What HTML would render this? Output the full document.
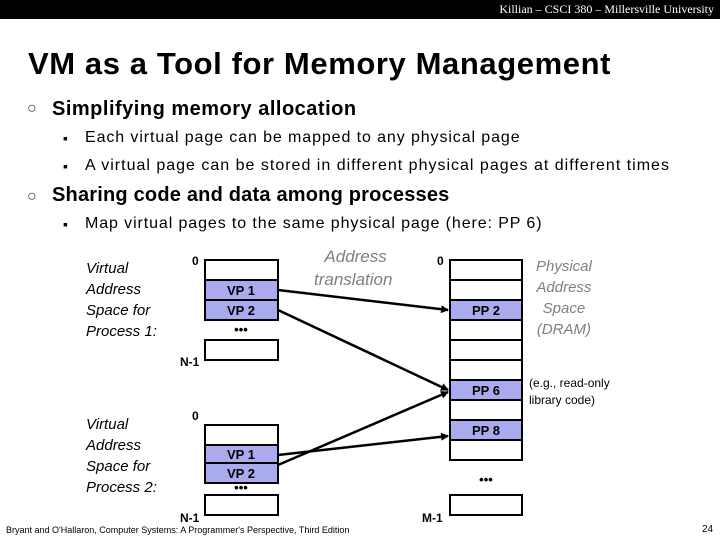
<!DOCTYPE html>
<html><head><style>
body{margin:0;width:720px;height:540px;background:#fff;position:relative;overflow:hidden;font-family:"Liberation Sans",sans-serif}
.a{position:absolute;white-space:nowrap}
.top{left:0;top:0;width:720px;height:19px;background:#000;color:#fff;font-family:"Liberation Serif",serif;font-size:12px;text-align:right}
.h{font-weight:bold;font-size:20px}
.s{font-size:16px;letter-spacing:0.9px}
.b{position:absolute;left:63px;font-size:14px}
.it{font-style:italic;color:#000;font-size:15px;line-height:21px}
</style></head><body>
<div class="a top"><span style="position:relative;right:6px;top:2px">Killian – CSCI 380 – Millersville University</span></div>
<div class="a" style="left:28px;top:46px;font-size:31px;font-weight:bold;letter-spacing:0.6px">VM as a Tool for Memory Management</div>
<div class="a" style="left:27px;top:100px;font-size:16px;color:#333">○</div>
<div class="a h" style="left:52px;top:98px;letter-spacing:0.5px">Simplifying memory allocation</div>
<div class="a b" style="top:130px">▪</div><div class="a s" style="left:85px;top:129px">Each virtual page can be mapped to any physical page</div>
<div class="a b" style="top:158px">▪</div><div class="a s" style="left:85px;top:157px;letter-spacing:1px">A virtual page can be stored in different physical pages at different times</div>
<div class="a" style="left:27px;top:188px;font-size:16px;color:#333">○</div>
<div class="a h" style="left:52px;top:184px;letter-spacing:0.2px">Sharing code and data among processes</div>
<div class="a b" style="top:216px">▪</div><div class="a s" style="left:85px;top:215px">Map virtual pages to the same physical page (here: PP 6)</div>
<div class="a it" style="left:86px;top:258px">Virtual<br>Address<br>Space for<br>Process 1:</div>
<div class="a it" style="left:86px;top:414px">Virtual<br>Address<br>Space for<br>Process 2:</div>
<div class="a it" style="left:314px;top:245px;color:#808080;font-size:17px;text-align:center;line-height:23px">&nbsp;Address<br>translation</div>
<div class="a it" style="left:536px;top:256px;color:#808080;text-align:center">Physical<br>Address<br>Space<br>(DRAM)</div>
<div class="a" style="left:529px;top:375px;font-size:12px;line-height:17px">(e.g., read-only<br>library code)</div>
<div class="a" style="left:6px;top:525px;font-size:9px">Bryant and O'Hallaron, Computer Systems: A Programmer's Perspective, Third Edition</div>
<div class="a" style="left:702px;top:524px;font-size:10px">24</div>
<svg class="a" style="left:0;top:0" width="720" height="540">
<defs><marker id="m" markerWidth="8" markerHeight="8" refX="7" refY="4" orient="auto" markerUnits="userSpaceOnUse"><path d="M0,0L8,4L0,8z"/></marker></defs>
<g stroke="#000" stroke-width="2" fill="#fff">
<rect x="205" y="260" width="73" height="20"/>
<rect x="205" y="280" width="73" height="20" fill="#aaaaee"/>
<rect x="205" y="300" width="73" height="20" fill="#aaaaee"/>
<rect x="205" y="340" width="73" height="20"/>
<rect x="205" y="425" width="73" height="20"/>
<rect x="205" y="445" width="73" height="18" fill="#aaaaee"/>
<rect x="205" y="463" width="73" height="20" fill="#aaaaee"/>
<rect x="205" y="495" width="73" height="20"/>
<rect x="450" y="260" width="72" height="20"/>
<rect x="450" y="280" width="72" height="20"/>
<rect x="450" y="300" width="72" height="20" fill="#aaaaee"/>
<rect x="450" y="320" width="72" height="20"/>
<rect x="450" y="340" width="72" height="20"/>
<rect x="450" y="360" width="72" height="20"/>
<rect x="450" y="380" width="72" height="20" fill="#aaaaee"/>
<rect x="450" y="400" width="72" height="20"/>
<rect x="450" y="420" width="72" height="20" fill="#aaaaee"/>
<rect x="450" y="440" width="72" height="20"/>
<rect x="450" y="495" width="72" height="20"/>
</g>
<g stroke="#000" stroke-width="2.5" marker-end="url(#m)">
<line x1="278" y1="290" x2="448" y2="310"/>
<line x1="278" y1="310" x2="448" y2="390"/>
<line x1="278" y1="455" x2="448" y2="436"/>
<line x1="278" y1="465" x2="448" y2="392"/>
</g>
<g font-family="Liberation Sans" font-weight="bold" font-size="13" text-anchor="middle">
<text x="241" y="295">VP 1</text><text x="241" y="315">VP 2</text><text x="241" y="334">•••</text>
<text x="241" y="459">VP 1</text><text x="241" y="478">VP 2</text><text x="241" y="492">•••</text>
<text x="486" y="315">PP 2</text><text x="486" y="395">PP 6</text><text x="486" y="435">PP 8</text><text x="486" y="484">•••</text>
</g>
<g font-family="Liberation Sans" font-weight="bold" font-size="12">
<text x="192" y="265">0</text><text x="180" y="366">N-1</text>
<text x="192" y="420">0</text><text x="180" y="522">N-1</text>
<text x="437" y="265">0</text><text x="422" y="522">M-1</text>
</g>
</svg>
</body></html>
